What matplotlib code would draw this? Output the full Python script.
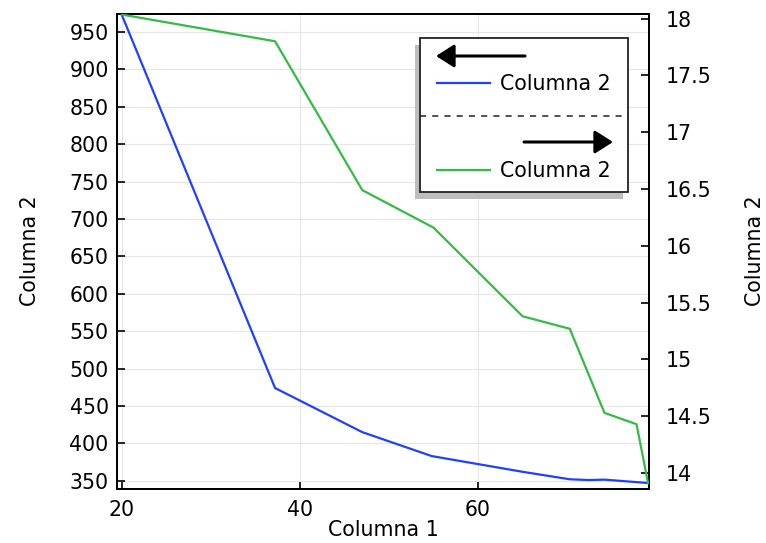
import matplotlib
matplotlib.use("Agg")
import matplotlib.pyplot as plt
from matplotlib.patches import Rectangle, FancyArrowPatch

x_blue = [20, 37.2, 47, 54.8, 65, 70.3, 72.4, 74.2, 79.1]
y_blue = [972.5, 474, 415, 383, 362, 352, 351, 351.5, 347]
x_green = [20, 37.2, 47, 55, 65, 70.3, 74.2, 77.8, 79.1]
y_green = [18.035, 17.8, 16.49, 16.16, 15.38, 15.27, 14.53, 14.43, 13.91]
xlabel = "Columna 1"
ylabel_left = "Columna 2"
ylabel_right = "Columna 2"
legend_labels = ["Columna 2", "Columna 2"]

plt.rcParams['font.family'] = 'DejaVu Sans'
FS = 14.8

fig = plt.figure(figsize=(7.66, 5.43), dpi=100)
W, H = 766, 543
L, R, T, B = 117, 649, 14, 489
ax = fig.add_axes([L / W, 1 - B / H, (R - L) / W, (B - T) / H])
ax2 = ax.twinx()

ax.plot(x_blue, y_blue, color='#2040ff', lw=1.6, zorder=3)
ax2.plot(x_green, y_green, color='#33bb44', lw=1.6, zorder=3)

ax.set_xlim(19.45, 79.2)
ax.set_ylim(339, 974)
ax2.set_ylim(13.86, 18.04)
ax.set_xticks([20, 40, 60])
ax.set_yticks(range(350, 951, 50))
ax2.set_yticks([14, 14.5, 15, 15.5, 16, 16.5, 17, 17.5, 18])
ax2.set_yticklabels(['14', '14.5', '15', '15.5', '16', '16.5', '17', '17.5', '18'])

ax.grid(True, color='#e6e6e6', lw=0.8)
ax.set_axisbelow(True)
for a in (ax, ax2):
    a.tick_params(direction='in', length=6, width=1.2, labelsize=FS)
    for s in a.spines.values():
        s.set_linewidth(1.3)
ax.tick_params(axis='y', pad=6)
ax.tick_params(axis='x', pad=8)
ax2.tick_params(axis='y', pad=12)

ax.set_xlabel(xlabel, fontsize=FS, labelpad=0)
fig.text(30 / W, 1 - 251 / H, ylabel_left, rotation=90, ha='center', va='center', fontsize=FS)
fig.text(755 / W, 1 - 251 / H, ylabel_right, rotation=90, ha='center', va='center', fontsize=FS)

def fx(px):
    return px / W

def fy(py):
    return 1 - py / H

bx0, bx1, by0, by1 = 420, 628, 38, 192
fig.patches.append(Rectangle((fx(bx0 - 5), fy(by1 + 7)), fx(bx1 - bx0), (by1 - by0) / H,
                             transform=fig.transFigure, facecolor='#bdbdbd', edgecolor='none', zorder=5))
fig.patches.append(Rectangle((fx(bx0), fy(by1)), fx(bx1 - bx0), (by1 - by0) / H,
                             transform=fig.transFigure, facecolor='white', edgecolor='#222222', lw=1.3, zorder=6))
fig.lines.append(plt.Line2D([fx(bx0), fx(bx1)], [fy(116), fy(116)], transform=fig.transFigure,
                            color='#222222', lw=1.1, ls=(0, (4, 4)), zorder=7))
for (x0, x1, yy) in [(525, 436, 56), (524, 613, 142)]:
    fig.patches.append(FancyArrowPatch((fx(x0), fy(yy)), (fx(x1), fy(yy)), transform=fig.transFigure,
                                       arrowstyle='-|>,head_length=11,head_width=7', mutation_scale=1,
                                       color='black', lw=2.2, zorder=8, shrinkA=0, shrinkB=0))
fig.lines.append(plt.Line2D([fx(437), fx(490)], [fy(83), fy(83)], transform=fig.transFigure,
                            color='#2040ff', lw=1.6, zorder=7))
fig.lines.append(plt.Line2D([fx(437), fx(490)], [fy(170), fy(170)], transform=fig.transFigure,
                            color='#33bb44', lw=1.6, zorder=7))
t1 = fig.text(fx(500), fy(84), legend_labels[0], va='center', ha='left', fontsize=FS)
t2 = fig.text(fx(500), fy(171), legend_labels[1], va='center', ha='left', fontsize=FS)
t1.set_zorder(9)
t2.set_zorder(9)

fig.savefig('out.png', dpi=100)
